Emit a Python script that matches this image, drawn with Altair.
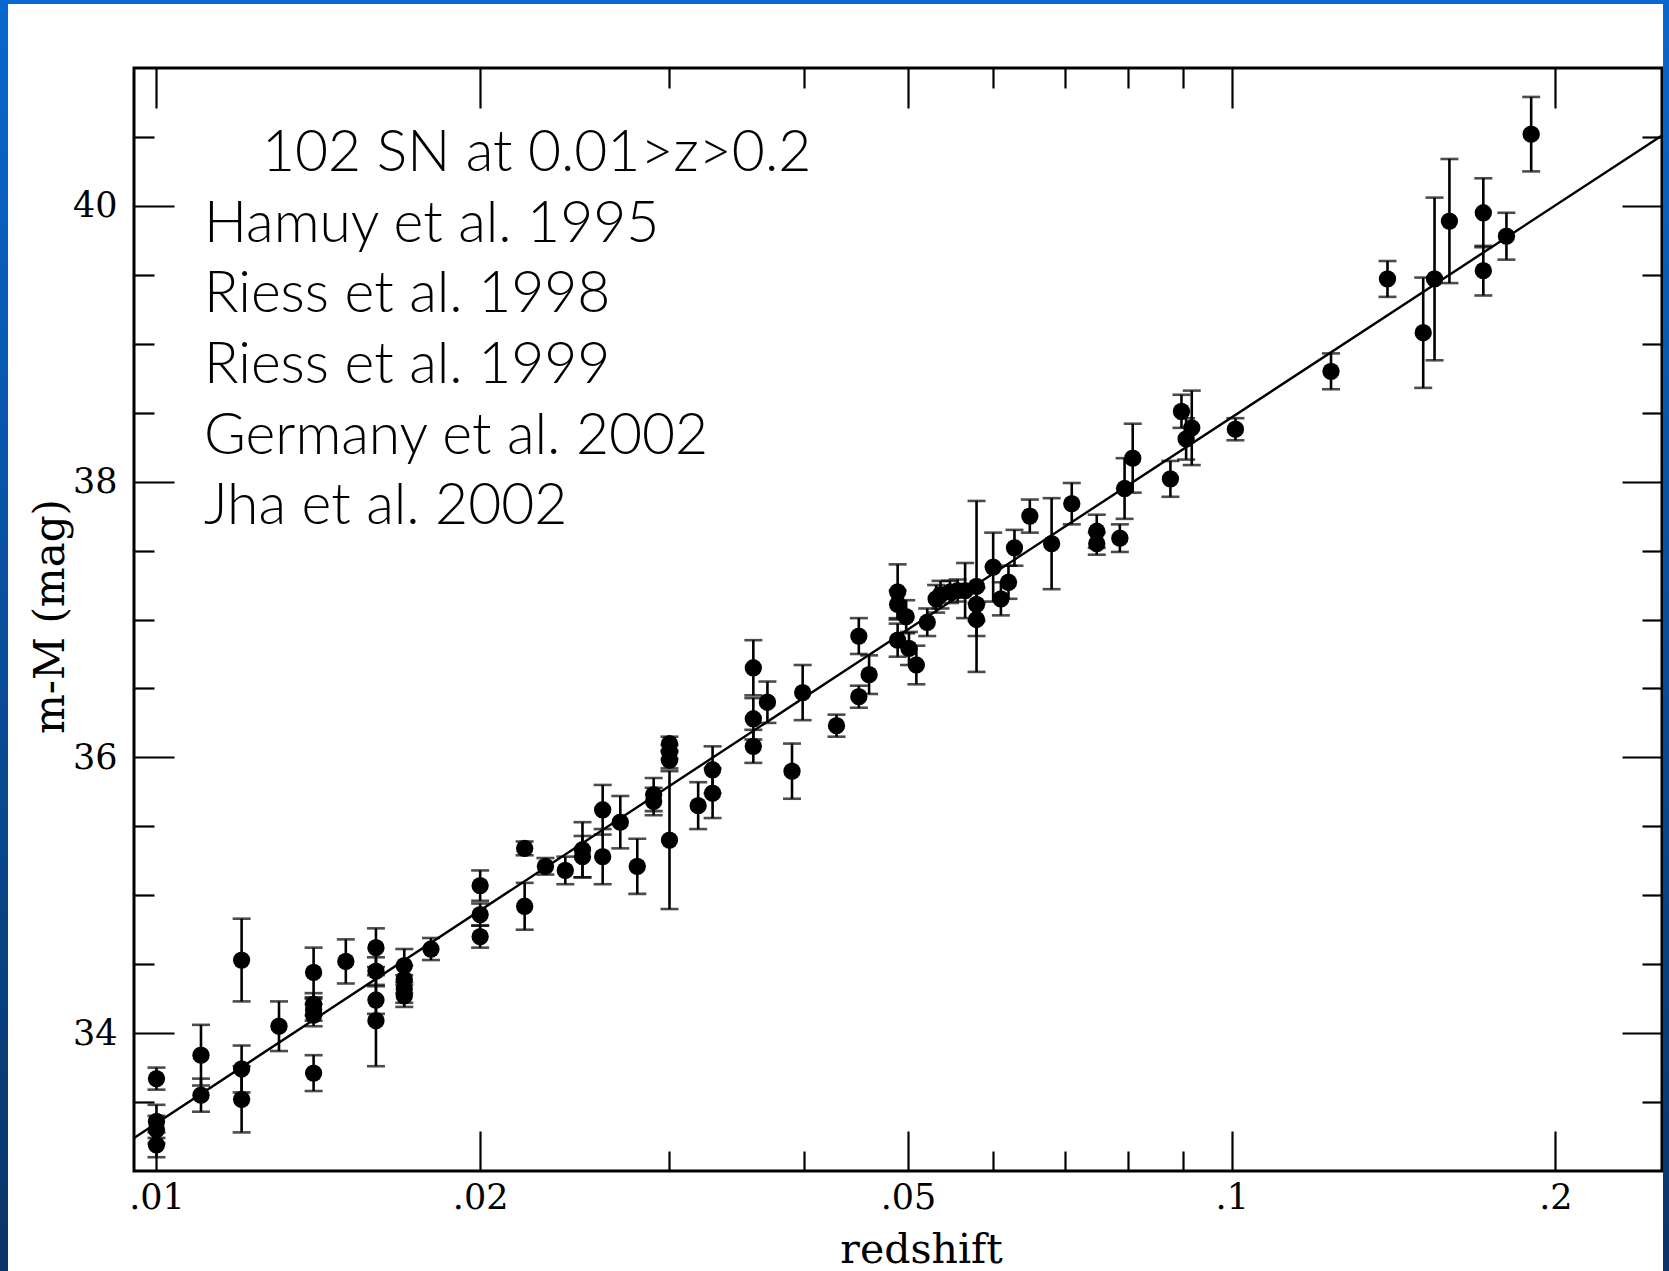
import altair as alt
import pandas as pd

# ---------------- data ----------------
redshift = [
    0.0100, 0.0100, 0.0100, 0.0100, 0.0110, 0.0110, 0.0120, 0.0120, 0.0120, 0.0130,
    0.0140, 0.0140, 0.0140, 0.0140, 0.0140, 0.0150, 0.0160, 0.0160, 0.0160, 0.0160,
    0.0170, 0.0170, 0.0170, 0.0170, 0.0180, 0.0200, 0.0200, 0.0200, 0.0220, 0.0220,
    0.0230, 0.0240, 0.0249, 0.0249, 0.0260, 0.0260, 0.0270, 0.0280, 0.0290, 0.0290,
    0.0300, 0.0300, 0.0300, 0.0300, 0.0319, 0.0329, 0.0329, 0.0359, 0.0359, 0.0359,
    0.0370, 0.0390, 0.0399, 0.0429, 0.0450, 0.0450, 0.0460, 0.0489, 0.0489, 0.0489,
    0.0498, 0.0501, 0.0509, 0.0521, 0.0531, 0.0536, 0.0547, 0.0556, 0.0565, 0.0579,
    0.0579, 0.0579, 0.0600, 0.0610, 0.0620, 0.0628, 0.0649, 0.0680, 0.0710, 0.0749,
    0.0749, 0.0787, 0.0795, 0.0809, 0.0877, 0.0898, 0.0907, 0.0918, 0.1008, 0.1237,
    0.1396, 0.1507, 0.1544, 0.1594, 0.1714, 0.1714, 0.1801, 0.1899,
]
distance_modulus = [
    33.67, 33.36, 33.30, 33.19, 33.84, 33.55, 34.53, 33.74, 33.52, 34.05,
    34.44, 34.21, 34.17, 34.13, 33.71, 34.52, 34.62, 34.45, 34.24, 34.09,
    34.49, 34.39, 34.32, 34.27, 34.61, 35.07, 34.86, 34.70, 35.34, 34.92,
    35.21, 35.18, 35.33, 35.28, 35.62, 35.28, 35.53, 35.21, 35.73, 35.68,
    36.10, 36.04, 35.98, 35.40, 35.65, 35.91, 35.74, 36.65, 36.28, 36.08,
    36.40, 35.90, 36.47, 36.23, 36.88, 36.44, 36.60, 37.20, 37.11, 36.85,
    37.02, 36.79, 36.67, 36.98, 37.15, 37.18, 37.20, 37.21, 37.21, 37.24,
    37.11, 37.00, 37.38, 37.15, 37.27, 37.52, 37.75, 37.55, 37.84, 37.64,
    37.55, 37.59, 37.95, 38.17, 38.02, 38.51, 38.31, 38.39, 38.38, 38.80,
    39.47, 39.08, 39.47, 39.89, 39.95, 39.53, 39.78, 40.52,
]
modulus_error = [
    0.08, 0.12, 0.10, 0.09, 0.22, 0.12, 0.30, 0.17, 0.24, 0.18,
    0.18, 0.08, 0.08, 0.08, 0.13, 0.16, 0.14, 0.10, 0.10, 0.33,
    0.12, 0.10, 0.10, 0.08, 0.08, 0.11, 0.08, 0.08, 0.05, 0.17,
    0.06, 0.10, 0.20, 0.15, 0.18, 0.20, 0.19, 0.20, 0.12, 0.10,
    0.05, 0.05, 0.06, 0.50, 0.17, 0.17, 0.18, 0.20, 0.15, 0.12,
    0.15, 0.20, 0.20, 0.08, 0.13, 0.08, 0.14, 0.20, 0.10, 0.12,
    0.12, 0.12, 0.14, 0.10, 0.10, 0.10, 0.08, 0.08, 0.20, 0.62,
    0.12, 0.12, 0.25, 0.12, 0.12, 0.13, 0.12, 0.33, 0.15, 0.12,
    0.08, 0.10, 0.22, 0.25, 0.13, 0.12, 0.15, 0.27, 0.08, 0.13,
    0.13, 0.40, 0.59, 0.45, 0.25, 0.18, 0.17, 0.27,
]

fit_redshift = [0.00953, 0.0441, 0.2513]
fit_modulus = [33.24, 36.65, 40.51]

x_domain = [0.00953, 0.2513]
y_domain = [33, 41]
x_major = [0.01, 0.02, 0.05, 0.1, 0.2]
x_major_labels = [".01", ".02", ".05", ".1", ".2"]
x_minor = [0.03, 0.04, 0.06, 0.07, 0.08, 0.09]
y_major = [34, 36, 38, 40]
y_minor = [33.5, 34.5, 35, 35.5, 36.5, 37, 37.5, 38.5, 39, 39.5, 40.5]

annotation_lines = [
    "102 SN at 0.01>z>0.2",
    "Hamuy et al. 1995",
    "Riess et al. 1998",
    "Riess et al. 1999",
    "Germany et al. 2002",
    "Jha et al. 2002",
]

# ---------------- layout constants ----------------
W, H = 1528, 1103
PAD_L, PAD_T, PAD_R, PAD_B = 134, 68, 7, 100
MAJOR_LEN, MINOR_LEN = 40, 20
SERIF = "DejaVu Serif"

df = pd.DataFrame({"z": redshift, "mag": distance_modulus, "err": modulus_error})
df["lo"] = df["mag"] - df["err"]
df["hi"] = df["mag"] + df["err"]
fit_df = pd.DataFrame({"z": fit_redshift, "mag": fit_modulus})
one = pd.DataFrame({"k": [0]})

x_scale = alt.Scale(type="log", domain=x_domain, nice=False)
y_scale = alt.Scale(domain=y_domain, nice=False, zero=False)

label_expr = "".join(f"datum.value == {v} ? '{s}' : " for v, s in zip(x_major, x_major_labels)) + "''"


def tick_axis(orient, values, length):
    return alt.Axis(orient=orient, values=values, tickSize=length, offset=-length,
                    labels=False, domain=False, grid=False, title=None,
                    ticks=True, tickColor="black", tickWidth=2.2)


x_label_axis = alt.Axis(
    orient="bottom", values=x_major, labelExpr=label_expr, ticks=False, tickSize=0,
    domain=False, grid=False, labelFont=SERIF, labelFontSize=35, labelColor="black",
    labelPadding=9, labelFlush=False, labelOverlap=False,
    title="redshift", titleFont=SERIF, titleFontSize=41, titleFontWeight="normal",
    titleColor="black", titleX=787, titleY=91, titleAlign="center", titleBaseline="alphabetic",
)
y_label_axis = alt.Axis(
    orient="left", values=y_major, format="d", ticks=False, tickSize=0,
    domain=False, grid=False, labelFont=SERIF, labelFontSize=35, labelColor="black",
    labelPadding=17, labelFlush=False, labelOverlap=False,
    title="m-M (mag)", titleFont=SERIF, titleFontSize=42, titleFontWeight="normal",
    titleColor="black", titleAngle=270, titleX=-84, titleY=548, titleAlign="center",
    titleBaseline="middle",
)

base = alt.Chart(df)

errbars = base.mark_rule(color="black", strokeWidth=2.6).encode(
    x=alt.X("z:Q", scale=x_scale, axis=x_label_axis),
    y=alt.Y("lo:Q", scale=y_scale, axis=y_label_axis),
    y2="hi:Q",
)

caps = base.transform_fold(["lo", "hi"], as_=["end", "val"]).mark_tick(
    orient="horizontal", size=18, thickness=2.6, color="black"
).encode(
    x=alt.X("z:Q", scale=x_scale, axis=tick_axis("bottom", x_major, MAJOR_LEN)),
    y=alt.Y("val:Q", scale=y_scale, axis=tick_axis("left", y_major, MAJOR_LEN)),
)

fit_line = alt.Chart(fit_df).mark_line(color="black", strokeWidth=2.4).encode(
    x=alt.X("z:Q", scale=x_scale, axis=tick_axis("bottom", x_minor, MINOR_LEN)),
    y=alt.Y("mag:Q", scale=y_scale, axis=tick_axis("left", y_minor, MINOR_LEN)),
)

points = base.mark_circle(size=300, color="black", opacity=1).encode(
    x=alt.X("z:Q", scale=x_scale, axis=tick_axis("top", x_major, MAJOR_LEN)),
    y=alt.Y("mag:Q", scale=y_scale, axis=tick_axis("right", y_major, MAJOR_LEN)),
)

hidden = base.mark_circle(size=1, opacity=0).encode(
    x=alt.X("z:Q", scale=x_scale, axis=tick_axis("top", x_minor, MINOR_LEN)),
    y=alt.Y("mag:Q", scale=y_scale, axis=tick_axis("right", y_minor, MINOR_LEN)),
)

# slide frame (blue strips around the white panel)
grad = alt.LinearGradient(
    gradient="linear",
    stops=[alt.GradientStop(color="#0868cf", offset=0),
           alt.GradientStop(color="#0a3468", offset=1)],
    x1=0, x2=0, y1=0, y2=1,
)
left_strip = alt.Chart(one).mark_rect(color=grad).encode(
    x=alt.value(-PAD_L), x2=alt.value(-PAD_L + 8), y=alt.value(-PAD_T), y2=alt.value(H + PAD_B))
right_strip = alt.Chart(one).mark_rect(color=grad).encode(
    x=alt.value(W + 1), x2=alt.value(W + PAD_R), y=alt.value(-PAD_T), y2=alt.value(H + PAD_B))
top_strip = alt.Chart(one).mark_rect(color="#0868cf").encode(
    x=alt.value(-PAD_L), x2=alt.value(W + PAD_R), y=alt.value(-PAD_T), y2=alt.value(-PAD_T + 4))

text_x = [128, 70, 70, 70, 70, 70]
text_y = [103, 174, 244, 315, 386, 456]
texts = [
    alt.Chart(one).mark_text(text=line, font="Lato", fontSize=57, fontWeight=300, align="left",
                             baseline="alphabetic", color="black").encode(
        x=alt.value(tx), y=alt.value(ty))
    for line, tx, ty in zip(annotation_lines, text_x, text_y)
]

chart = alt.layer(
    left_strip, right_strip, top_strip, errbars, caps, fit_line, points, hidden, *texts
).resolve_axis(x="independent", y="independent").properties(
    width=W, height=H,
    autosize=alt.AutoSizeParams(type="none"),
    padding={"left": PAD_L, "top": PAD_T, "right": PAD_R, "bottom": PAD_B},
    background="white",
).configure_view(stroke="black", strokeWidth=3)

chart.save("out.html", embed_options={"renderer": "svg", "actions": False})
